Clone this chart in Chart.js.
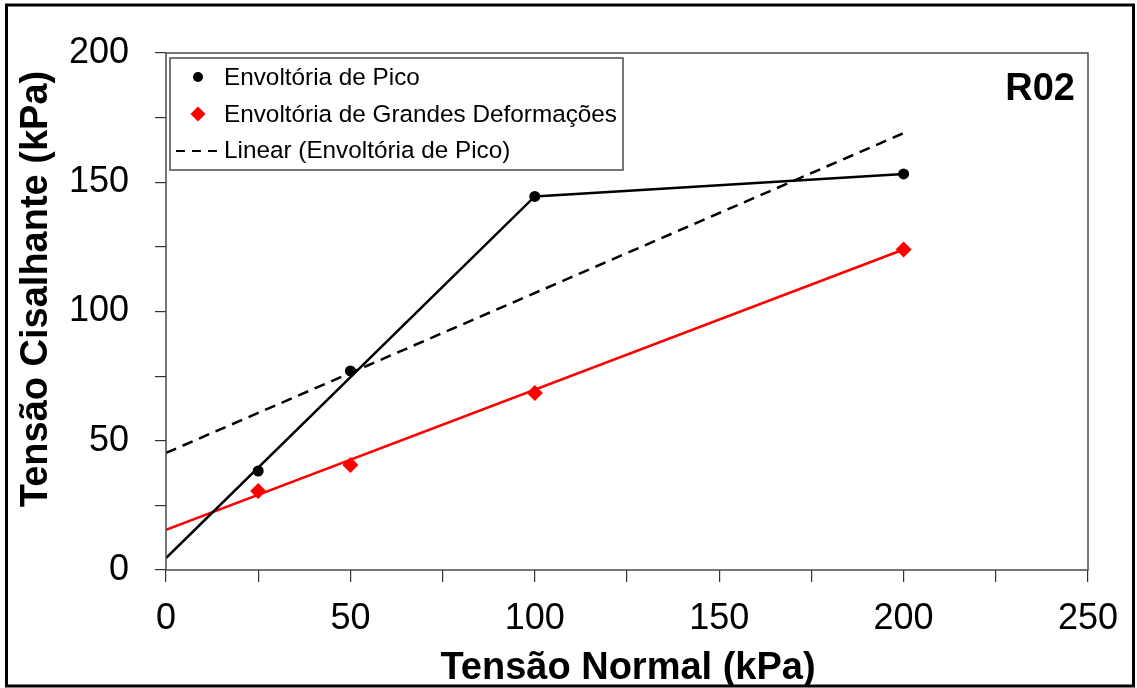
<!DOCTYPE html>
<html>
<head>
<meta charset="utf-8">
<title>R02 - Envoltórias de resistência</title>
<script src="https://cdn.jsdelivr.net/npm/chart.js@4/dist/chart.umd.min.js"></script>
<style>
  html, body { margin: 0; padding: 0; background: #fff; }
  #wrap { width: 1137px; height: 688px; position: relative; }
</style>
</head>
<body>
<div id="wrap"><canvas id="chart" width="1137" height="688"></canvas></div>
<script>
// Ensaio R02: tensão normal (kPa) x tensão cisalhante (kPa)
const normalStress = [25, 50, 100, 200];
const peakShear = [38.3, 77, 144.5, 153.2];
const largeDefShear = [30.6, 40.6, 68.5, 124];

// Linhas das envoltórias
const peakLineX = [0, 100, 200];
const peakLineY = [4.6, 144.5, 153.2];
const largeDefLineX = [0, 200];
const largeDefLineY = [15.5, 124];
const trendX = [0, 200];
const trendY = [45.3, 169];

const xTickLabels = [0, 50, 100, 150, 200, 250];
const yTickLabels = [0, 50, 100, 150, 200];

const seriesNames = [
  'Envoltória de Pico',
  'Envoltória de Grandes Deformações',
  'Linear (Envoltória de Pico)'
];
const chartTag = 'R02';
const xTitle = 'Tensão Normal (kPa)';
const yTitle = 'Tensão Cisalhante (kPa)';

const FONT = '"Liberation Sans", Arial, Helvetica, sans-serif';
const zip = (xs, ys) => xs.map((x, i) => ({ x: x, y: ys[i] }));

const frameAndText = {
  id: 'frameAndText',
  afterDraw(chart) {
    const ctx = chart.ctx;
    const a = chart.chartArea;
    ctx.save();
    // plot frame
    ctx.strokeStyle = '#4a4a4a';
    ctx.lineWidth = 1.5;
    ctx.strokeRect(a.left, a.top, a.right - a.left, a.bottom - a.top);

    // axis titles
    ctx.fillStyle = '#000';
    ctx.font = 'bold 38px ' + FONT;
    ctx.textAlign = 'center';
    ctx.textBaseline = 'alphabetic';
    ctx.fillText(xTitle, 628, 679);
    ctx.save();
    ctx.translate(47, 289);
    ctx.rotate(-Math.PI / 2);
    ctx.fillText(yTitle, 0, 0);
    ctx.restore();

    // tag
    ctx.textAlign = 'right';
    ctx.fillText(chartTag, 1075, 100);

    // legend box
    const lx = 170, ly = 58, lw = 453, lh = 112;
    ctx.fillStyle = '#fff';
    ctx.fillRect(lx, ly, lw, lh);
    ctx.strokeStyle = '#4a4a4a';
    ctx.lineWidth = 1.5;
    ctx.strokeRect(lx, ly, lw, lh);

    const rows = [77, 114, 150];
    ctx.font = '24.3px ' + FONT;
    ctx.textAlign = 'left';
    ctx.textBaseline = 'middle';
    ctx.fillStyle = '#000';
    rows.forEach((ry, i) => ctx.fillText(seriesNames[i], 224, ry + 1));

    // legend markers
    ctx.fillStyle = '#000';
    ctx.beginPath();
    ctx.arc(198, rows[0], 5, 0, Math.PI * 2);
    ctx.fill();

    ctx.fillStyle = '#ff0000';
    ctx.beginPath();
    ctx.moveTo(198, rows[1] - 7.5);
    ctx.lineTo(205.5, rows[1]);
    ctx.lineTo(198, rows[1] + 7.5);
    ctx.lineTo(190.5, rows[1]);
    ctx.closePath();
    ctx.fill();

    ctx.strokeStyle = '#000';
    ctx.lineWidth = 2.2;
    ctx.setLineDash([9, 7]);
    ctx.beginPath();
    ctx.moveTo(176, rows[2] + 1);
    ctx.lineTo(222, rows[2] + 1);
    ctx.stroke();
    ctx.setLineDash([]);

    // outer border
    ctx.strokeStyle = '#000';
    ctx.lineWidth = 3;
    ctx.strokeRect(6.5, 5, 1127, 681);
    ctx.restore();
  }
};

new Chart(document.getElementById('chart'), {
  type: 'scatter',
  data: {
    datasets: [
      {
        label: seriesNames[0],
        data: zip(normalStress, peakShear),
        showLine: false,
        pointStyle: 'circle',
        pointRadius: 5.5,
        backgroundColor: '#000',
        borderColor: '#000',
        borderWidth: 0
      },
      {
        label: seriesNames[1],
        data: zip(normalStress, largeDefShear),
        showLine: false,
        pointStyle: 'rectRot',
        pointRadius: 8,
        backgroundColor: '#ff0000',
        borderColor: '#ff0000',
        borderWidth: 0
      },
      {
        label: 'Pico (linha)',
        data: zip(peakLineX, peakLineY),
        showLine: true,
        pointRadius: 0,
        borderColor: '#000',
        borderWidth: 2.5,
        tension: 0
      },
      {
        label: 'Grandes Deformações (linha)',
        data: zip(largeDefLineX, largeDefLineY),
        showLine: true,
        pointRadius: 0,
        borderColor: '#ff0000',
        borderWidth: 2.5,
        tension: 0
      },
      {
        label: seriesNames[2],
        data: zip(trendX, trendY),
        showLine: true,
        pointRadius: 0,
        borderColor: '#000',
        borderWidth: 2.5,
        borderDash: [11, 7],
        tension: 0
      }
    ]
  },
  options: {
    responsive: false,
    animation: false,
    devicePixelRatio: 1,
    layout: { padding: { top: 53, right: 49, bottom: 0, left: 0 } },
    plugins: {
      legend: { display: false },
      tooltip: { enabled: false },
      title: { display: false }
    },
    scales: {
      x: {
        type: 'linear',
        min: 0,
        max: 250,
        afterFit: s => { s.height = 118; },
        border: { display: false },
        grid: { drawOnChartArea: false, drawTicks: true, tickLength: 12, color: '#333', lineWidth: 1.2 },
        ticks: {
          stepSize: 25,
          autoSkip: false,
          maxRotation: 0,
          padding: 15,
          color: '#000',
          font: { family: FONT, size: 36 },
          callback: v => (xTickLabels.includes(v) ? String(v) : '')
        }
      },
      y: {
        type: 'linear',
        min: 0,
        max: 200,
        afterFit: s => { s.width = 166; },
        border: { display: false },
        grid: { drawOnChartArea: false, drawTicks: true, tickLength: 11, color: '#333', lineWidth: 1.2 },
        ticks: {
          stepSize: 25,
          autoSkip: false,
          padding: 26,
          color: '#000',
          font: { family: FONT, size: 36 },
          callback: v => (yTickLabels.includes(v) ? String(v) : '')
        }
      }
    }
  },
  plugins: [frameAndText]
});
</script>
</body>
</html>
